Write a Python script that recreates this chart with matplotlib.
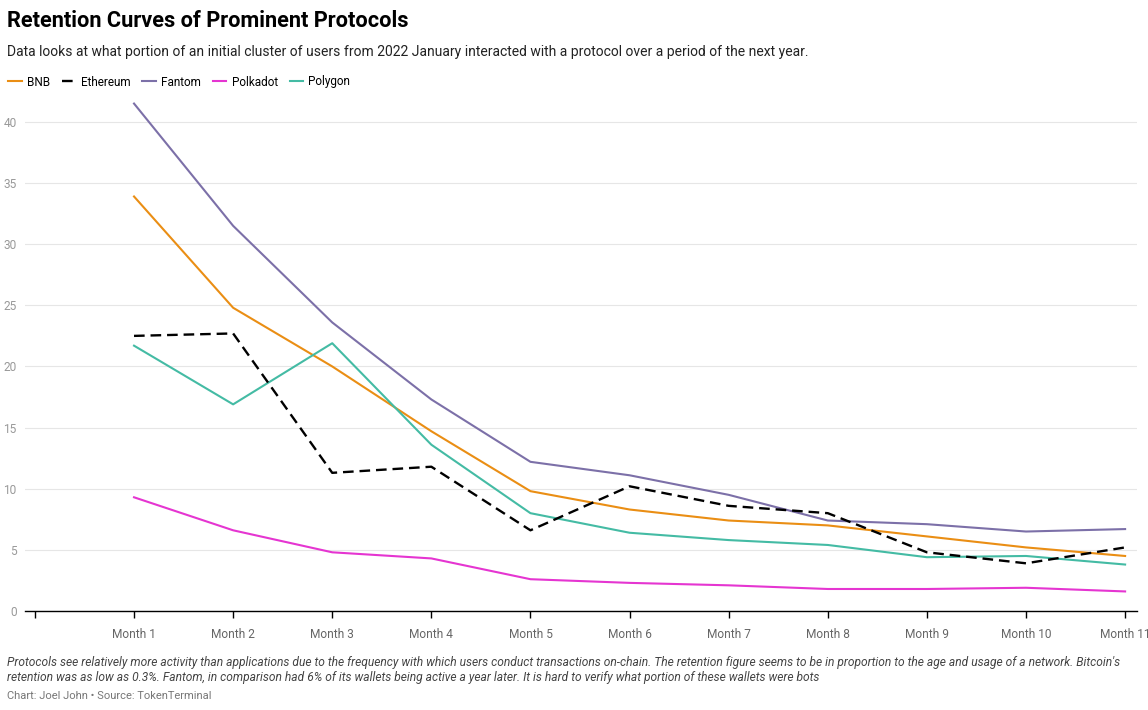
import matplotlib
matplotlib.use("Agg")
import matplotlib.pyplot as plt

months = ["", "Month 1", "Month 2", "Month 3", "Month 4", "Month 5", "Month 6",
          "Month 7", "Month 8", "Month 9", "Month 10", "Month 11"]
bnb = [33.9, 24.8, 20.0, 14.7, 9.8, 8.3, 7.4, 7.0, 6.1, 5.2, 4.5]
ethereum = [22.5, 22.7, 11.3, 11.8, 6.6, 10.2, 8.6, 8.0, 4.8, 3.9, 5.2]
fantom = [41.5, 31.5, 23.6, 17.3, 12.2, 11.1, 9.5, 7.4, 7.1, 6.5, 6.7]
polkadot = [9.3, 6.6, 4.8, 4.3, 2.6, 2.3, 2.1, 1.8, 1.8, 1.9, 1.6]
polygon = [21.7, 16.9, 21.9, 13.6, 8.0, 6.4, 5.8, 5.4, 4.4, 4.5, 3.8]
yticks = [0, 5, 10, 15, 20, 25, 30, 35, 40]

plt.rcParams['font.family'] = ['Roboto', 'DejaVu Sans']

fig = plt.figure(figsize=(11.48, 7.1), dpi=100)
ax = fig.add_axes([25/1148, 1-611/710, (1137-25)/1148, (611-95)/710])

x = list(range(1, 12))
ax.plot(x, bnb, color='#EA8E14', lw=1.5, label='BNB', zorder=3)
ax.plot(x, ethereum, color='black', lw=1.7, ls=(0, (4.5, 2.5)), label='Ethereum', zorder=4)
ax.plot(x, fantom, color='#7C70A8', lw=1.5, label='Fantom', zorder=3)
ax.plot(x, polkadot, color='#E535D1', lw=1.5, label='Polkadot', zorder=3)
ax.plot(x, polygon, color='#44BBA4', lw=1.5, label='Polygon', zorder=3)

ax.set_xlim(-0.1, 11.12)
ax.set_ylim(0, 42.2)
ax.set_xticks(range(len(months)))
ax.set_xticklabels(months, fontsize=8.6, color='#666666')
ax.set_yticks(yticks)
ax.set_yticklabels([str(v) for v in yticks], fontsize=8.6, color='#999999')
ax.tick_params(axis='x', length=5, width=1, color='black', pad=7)
ax.tick_params(axis='y', length=0, pad=6)
ax.grid(axis='y', color='#e6e6e6', lw=0.8)
ax.set_axisbelow(True)
for s in ['top', 'right', 'left']:
    ax.spines[s].set_visible(False)
ax.spines['bottom'].set_color('black')
ax.spines['bottom'].set_linewidth(1)

fig.text(7/1148, 1-21/710, "Retention Curves of Prominent Protocols", fontsize=15.7,
         fontweight='bold', va='center', ha='left', color='black')
fig.text(7/1148, 1-52/710, "Data looks at what portion of an initial cluster of users from 2022 January "
         "interacted with a protocol over a period of the next year.", fontsize=10,
         va='center', ha='left', color='#222222')

fig.legend(loc='center left', bbox_to_anchor=(8/1148, 1-82/710), ncol=5, frameon=False,
           fontsize=8.5, handlelength=1.15, handletextpad=0.45, columnspacing=1.0,
           borderaxespad=0, borderpad=0.0)

fig.text(7/1148, 1-670/710, "Protocols see relatively more activity than applications due to the frequency with which users "
         "conduct transactions on-chain. The retention figure seems to be in proportion to the age and usage of a network. Bitcoin's\n"
         "retention was as low as 0.3%. Fantom, in comparison had 6% of its wallets being active a year later. It is hard to verify "
         "what portion of these wallets were bots",
         fontsize=8.65, style='italic', va='center', ha='left', color='#444444', linespacing=1.15)
fig.text(7/1148, 1-696/710, "Chart: Joel John \u2022 Source: TokenTerminal", fontsize=8,
         va='center', ha='left', color='#777777')

fig.savefig("out.png", dpi=100)
